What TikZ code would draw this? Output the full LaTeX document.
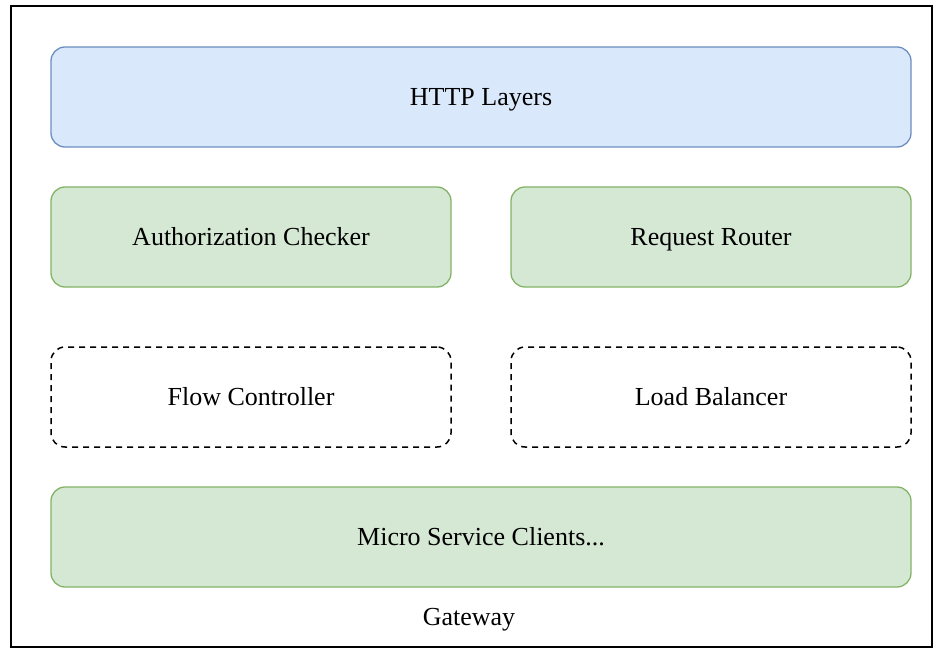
\documentclass[tikz,border=0pt]{standalone}
\usepackage{fontspec}
\setmainfont{Liberation Serif}
\definecolor{bluefill}{HTML}{DAE8FC}
\definecolor{bluedraw}{HTML}{6C8EBF}
\definecolor{greenfill}{HTML}{D5E8D4}
\definecolor{greendraw}{HTML}{82B366}
\tikzset{
  txt/.style={font=\fontsize{26}{30}\selectfont, inner sep=0pt, text height=17pt, text depth=0pt},
  box/.style={txt, rounded corners=14pt, line width=1.3pt, minimum height=100pt},
  bluebox/.style={box, fill=bluefill, draw=bluedraw},
  greenbox/.style={box, fill=greenfill, draw=greendraw},
  dashbox/.style={box, draw=black, dashed, dash pattern=on 6pt off 5pt, line width=1.5pt}
}
\begin{document}
\begin{tikzpicture}[x=1pt,y=-1pt]
\useasboundingbox (0,0) rectangle (936,652);
\draw[line width=2pt] (10.5,6.5) rectangle (931.5,647);
\node[bluebox, minimum width=860pt] (http) at (481,97) {HTTP Layers};
\node[greenbox, minimum width=400pt] (auth) at (251,237) {Authorization Checker};
\node[greenbox, minimum width=400pt] (router) at (711,237) {Request Router};
\node[dashbox, minimum width=400pt] (flow) at (251,397) {Flow Controller};
\node[dashbox, minimum width=400pt] (lb) at (711,397) {Load Balancer};
\node[greenbox, minimum width=860pt] (ms) at (481,537) {Micro Service Clients...};
\node[txt] (gw) at (469,617) {Gateway};
\end{tikzpicture}
\end{document}
